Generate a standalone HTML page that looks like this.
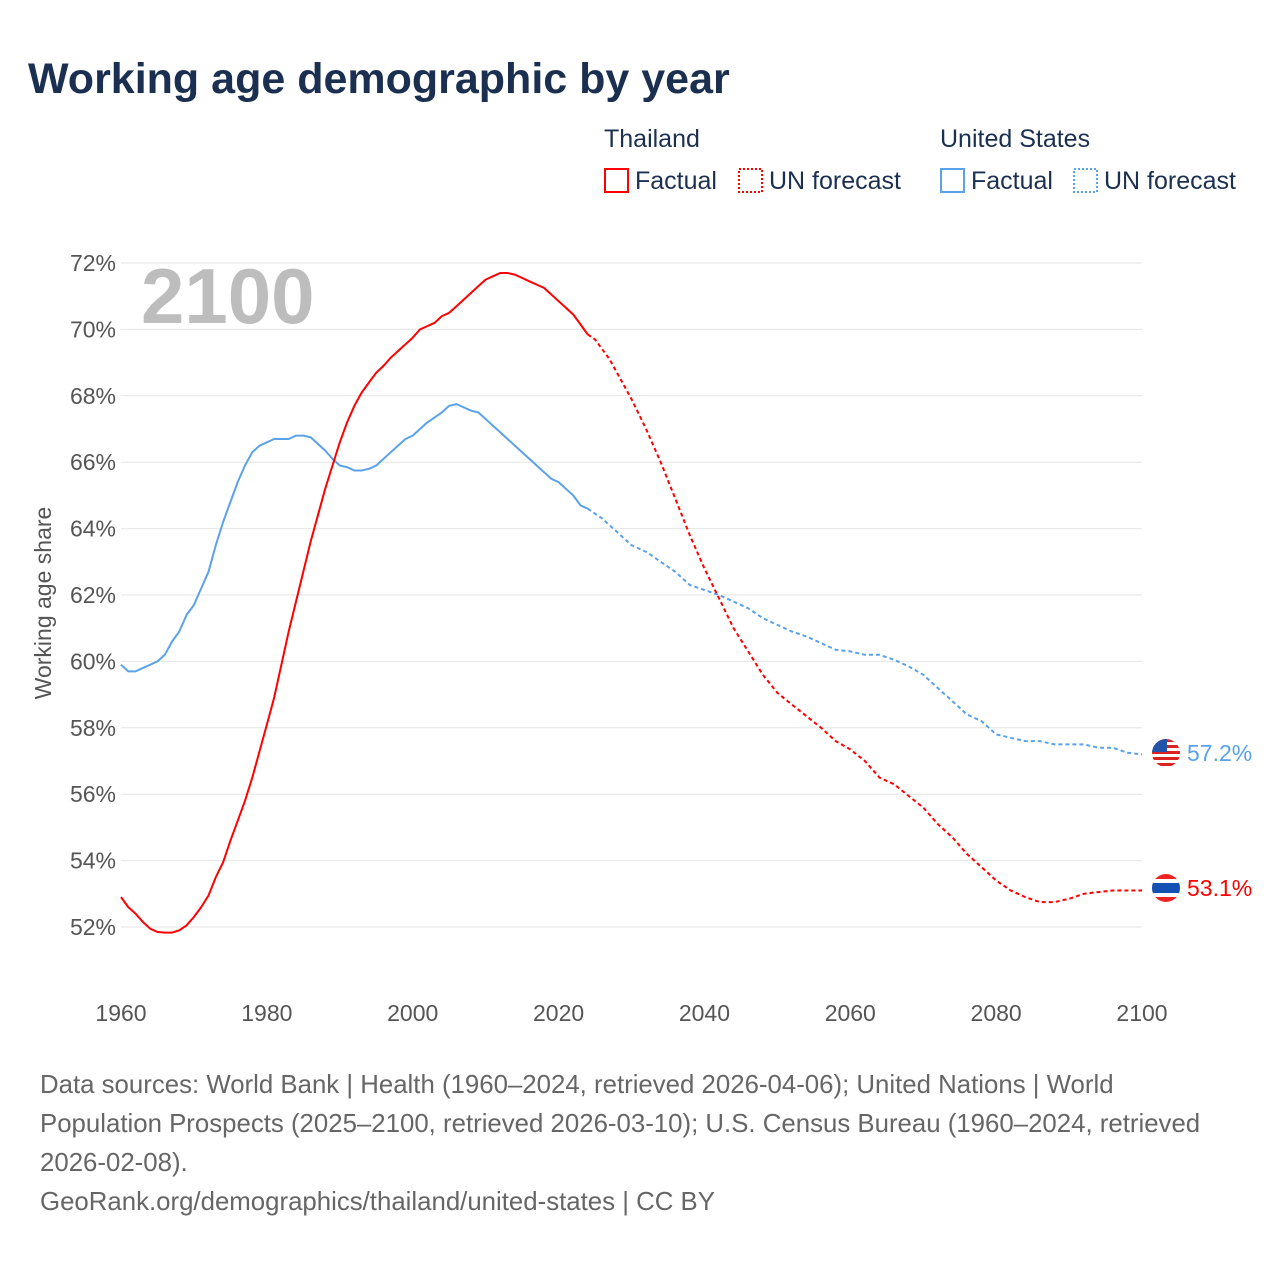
<!DOCTYPE html>
<html><head><meta charset="utf-8">
<style>
body{margin:0;background:#fff;width:1280px;height:1280px;overflow:hidden;font-family:"Liberation Sans",sans-serif;}
svg text{font-family:"Liberation Sans",sans-serif;}
</style></head>
<body>
<svg width="1280" height="1280">
<defs>
<clipPath id="cf1"><circle cx="1166" cy="753" r="14"/></clipPath>
<clipPath id="cf2"><circle cx="1166" cy="888" r="14"/></clipPath>
</defs>
<text x="28" y="93" font-size="43" font-weight="bold" fill="#1b3050">Working age demographic by year</text>
<g font-size="25" fill="#1b3050">
<text x="604" y="147" fill="#1b3050">Thailand</text>
<rect x="605" y="169" width="23" height="23" fill="none" stroke="#f00" stroke-width="2"/>
<text x="635" y="189" fill="#1b3050">Factual</text>
<rect x="739" y="169" width="23" height="23" fill="none" stroke="#f00" stroke-width="2" stroke-dasharray="2,2"/>
<text x="769" y="189" fill="#1b3050">UN forecast</text>
<text x="940" y="147" fill="#1b3050">United States</text>
<rect x="941" y="169" width="23" height="23" fill="none" stroke="#5aa2ea" stroke-width="2"/>
<text x="971" y="189" fill="#1b3050">Factual</text>
<rect x="1074" y="169" width="23" height="23" fill="none" stroke="#5aa2ea" stroke-width="2" stroke-dasharray="2,2"/>
<text x="1104" y="189" fill="#1b3050">UN forecast</text>
</g>
<g id="grid"></g>
<text x="141" y="323" font-size="78" font-weight="bold" fill="#bdbdbd">2100</text>
<text transform="translate(51,603) rotate(-90)" text-anchor="middle" font-size="23" fill="#555">Working age share</text>
<g id="series"></g>
<g clip-path="url(#cf1)">
<rect x="1150" y="737" width="32" height="32" fill="#fff"/>
<rect x="1150" y="739" width="32" height="3" fill="#d22"/><rect x="1150" y="745" width="32" height="3" fill="#d22"/><rect x="1150" y="751" width="32" height="3" fill="#d22"/><rect x="1150" y="757" width="32" height="3" fill="#d22"/><rect x="1150" y="763" width="32" height="3" fill="#d22"/>
<rect x="1150" y="737" width="17" height="15" fill="#2255aa"/>
</g>
<g clip-path="url(#cf2)">
<rect x="1150" y="872" width="32" height="32" fill="#e22"/>
<rect x="1150" y="879" width="32" height="18" fill="#fff"/>
<rect x="1150" y="883" width="32" height="10" fill="#1450b4"/>
</g>
<text x="1187" y="761" font-size="23" fill="#5aa2ea">57.2%</text>
<text x="1187" y="896" font-size="23" fill="#f00">53.1%</text>
<g font-size="25.8" fill="#666">
<text x="40" y="1093">Data sources: World Bank | Health (1960–2024, retrieved 2026-04-06); United Nations | World</text>
<text x="40" y="1132">Population Prospects (2025–2100, retrieved 2026-03-10); U.S. Census Bureau (1960–2024, retrieved</text>
<text x="40" y="1171">2026-02-08).</text>
<text x="40" y="1210">GeoRank.org/demographics/thailand/united-states | CC BY</text>
</g>
</svg>
<script>
const yTicks=[52,54,56,58,60,62,64,66,68,70,72];
const xTicks=[1960,1980,2000,2020,2040,2060,2080,2100];
const thYears=[1960,1961,1962,1963,1964,1965,1966,1967,1968,1969,1970,1971,1972,1973,1974,1975,1976,1977,1978,1979,1980,1981,1982,1983,1984,1985,1986,1987,1988,1989,1990,1991,1992,1993,1994,1995,1996,1997,1998,1999,2000,2001,2002,2003,2004,2005,2006,2007,2008,2009,2010,2011,2012,2013,2014,2015,2016,2017,2018,2019,2020,2021,2022,2023,2024];
const thValues=[52.9,52.6,52.4,52.15,51.95,51.85,51.83,51.83,51.9,52.05,52.3,52.6,52.95,53.5,53.95,54.6,55.2,55.8,56.5,57.3,58.1,58.9,59.9,60.9,61.8,62.7,63.6,64.4,65.2,65.9,66.6,67.2,67.7,68.1,68.4,68.7,68.9,69.15,69.35,69.55,69.75,70.0,70.1,70.2,70.4,70.5,70.7,70.9,71.1,71.3,71.5,71.6,71.7,71.7,71.65,71.55,71.45,71.35,71.25,71.05,70.85,70.65,70.45,70.15,69.85];
const thFcYears=[2024,2025,2026,2027,2028,2030,2032,2034,2036,2038,2040,2042,2044,2046,2048,2050,2052,2054,2056,2058,2060,2062,2064,2066,2068,2070,2072,2074,2076,2078,2080,2082,2084,2086,2088,2090,2092,2094,2096,2098,2100];
const thFcValues=[69.85,69.7,69.4,69.1,68.7,67.9,67.0,66.0,64.9,63.8,62.8,61.9,61.0,60.3,59.6,59.05,58.7,58.35,58.0,57.6,57.35,57.0,56.5,56.3,55.95,55.6,55.1,54.7,54.2,53.8,53.4,53.1,52.9,52.75,52.75,52.85,53.0,53.05,53.1,53.1,53.1];
const usYears=thYears;
const usValues=[59.9,59.7,59.7,59.8,59.9,60.0,60.2,60.6,60.9,61.4,61.7,62.2,62.7,63.5,64.2,64.8,65.4,65.9,66.3,66.5,66.6,66.7,66.7,66.7,66.8,66.8,66.75,66.55,66.35,66.1,65.9,65.85,65.75,65.75,65.8,65.9,66.1,66.3,66.5,66.7,66.8,67.0,67.2,67.35,67.5,67.7,67.75,67.65,67.55,67.5,67.3,67.1,66.9,66.7,66.5,66.3,66.1,65.9,65.7,65.5,65.4,65.2,65.0,64.7,64.6];
const usFcYears=[2024,2026,2028,2030,2032,2034,2036,2038,2040,2042,2044,2046,2048,2050,2052,2054,2056,2058,2060,2062,2064,2066,2068,2070,2072,2074,2076,2078,2080,2082,2084,2086,2088,2090,2092,2094,2096,2098,2100];
const usFcValues=[64.6,64.3,63.9,63.5,63.3,63.0,62.7,62.3,62.15,62.0,61.8,61.6,61.3,61.1,60.9,60.75,60.55,60.35,60.3,60.2,60.2,60.05,59.85,59.6,59.2,58.8,58.4,58.2,57.8,57.7,57.6,57.6,57.5,57.5,57.5,57.4,57.4,57.25,57.2];
const NS='http://www.w3.org/2000/svg';
function xS(y){return 121+(y-1960)*(1021/140);}
function yS(v){return 263+(72-v)*(664/20);}
const grid=document.getElementById('grid');
yTicks.forEach(t=>{
 const l=document.createElementNS(NS,'line');
 l.setAttribute('x1',121);l.setAttribute('x2',1142);l.setAttribute('y1',yS(t));l.setAttribute('y2',yS(t));
 l.setAttribute('stroke','#e6e6e6');l.setAttribute('stroke-width','1');
 
 
 grid.appendChild(l);
 const tx=document.createElementNS(NS,'text');
 tx.setAttribute('x',116);tx.setAttribute('y',yS(t)+8);tx.setAttribute('text-anchor','end');
 tx.setAttribute('font-size','23');tx.setAttribute('fill','#555');tx.textContent=t+'%';
 
 
 grid.appendChild(tx);
});
xTicks.forEach(t=>{
 const tx=document.createElementNS(NS,'text');
 tx.setAttribute('x',xS(t));tx.setAttribute('y',1021);tx.setAttribute('text-anchor','middle');
 tx.setAttribute('font-size','23');tx.setAttribute('fill','#555');tx.textContent=t;
 
 
 grid.appendChild(tx);
});
const ser=document.getElementById('series');
function line(xs,vs,color,dash,name){
 const p=document.createElementNS(NS,'path');
 p.setAttribute('d',xs.map((x,i)=>(i?'L':'M')+xS(x).toFixed(1)+','+yS(vs[i]).toFixed(1)).join(''));
 p.setAttribute('fill','none');p.setAttribute('stroke',color);p.setAttribute('stroke-width','2');
 p.setAttribute('stroke-linejoin','round');
 if(dash)p.setAttribute('stroke-dasharray','4,3');
 
 
 ser.appendChild(p);
}
line(usYears,usValues,'#5aa2ea',false,'us-factual-line');
line(usFcYears,usFcValues,'#5aa2ea',true,'us-forecast-line');
line(thYears,thValues,'#ff0000',false,'thailand-factual-line');
line(thFcYears,thFcValues,'#ff0000',true,'thailand-forecast-line');
</script>
</body></html>
